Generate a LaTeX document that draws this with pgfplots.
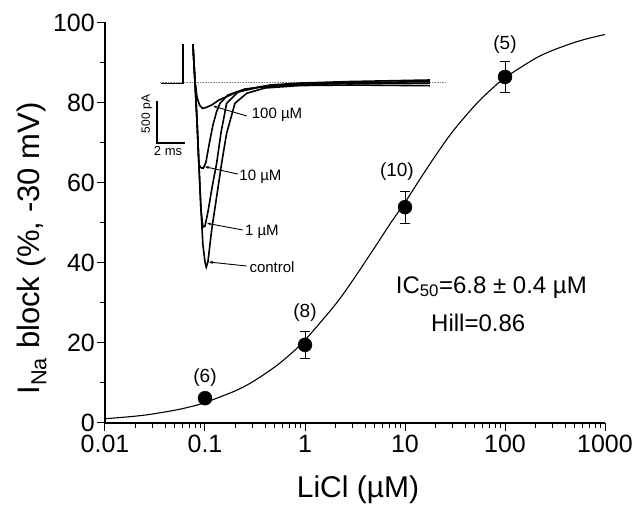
\documentclass[border=0pt]{standalone}
\usepackage{fontspec}
\setmainfont{Liberation Sans}
\usepackage{pgfplots}
\pgfplotsset{compat=1.18}
\usetikzlibrary{arrows.meta}

\begin{document}
\begin{tikzpicture}
\path[use as bounding box] (-105pt,-82pt) rectangle (532pt,423pt);

% main dose-response axis
\begin{axis}[
  at={(0pt,0pt)}, anchor=south west,
  scale only axis, width=500pt, height=400.5pt,
  xmode=log, xmin=0.01, xmax=1000, ymin=0, ymax=100,
  axis x line=bottom, axis y line=left,
  axis line style={line width=1.2pt, -},
  tick align=outside,
  major tick length=8pt, minor tick length=5pt,
  tick style={black, line width=1pt},
  xtick={0.01,0.1,1,10,100,1000},
  xticklabels={0.01,0.1,1,10,100,1000},
  minor xtick={0.02,0.03,0.04,0.05,0.06,0.07,0.08,0.09,
    0.2,0.3,0.4,0.5,0.6,0.7,0.8,0.9,2,3,4,5,6,7,8,9,
    20,30,40,50,60,70,80,90,200,300,400,500,600,700,800,900},
  ytick={0,20,40,60,80,100},
  yticklabels={0,20,40,60,80,100},
  minor ytick={10,30,50,70,90},
  tick label style={font=\fontsize{25}{28}\selectfont, inner sep=0pt},
  xticklabel style={yshift=-4pt},
  yticklabel style={xshift=-2pt},
  clip=false,
]
% Hill fit
\addplot[black, line width=1.1pt, smooth] coordinates {
  (0.01,1.05) (0.02,1.70) (0.03,2.25) (0.05,3.20) (0.07,4.00) (0.1,5.10)
  (0.2,8.00) (0.3,10.30) (0.5,14.00) (0.7,17.00) (1,20.70) (2,29.50)
  (3,35.60) (5,43.90) (7,49.50) (10,55.10) (15,61.90) (20,66.60)
  (30,72.80) (50,79.30) (70,82.90) (100,86.20) (200,91.00) (300,93.05)
  (500,95.05) (700,96.10) (1000,97.00)
};
% mean +- SEM
\addplot[only marks, mark=*, mark size=7pt, black,
  error bars/.cd, y dir=both, y explicit,
  error bar style={line width=1pt},
  error mark options={rotate=90, mark size=5pt, line width=1pt}]
  coordinates {
  (0.1,6.2) +- (0,1.0)
  (1,19.5) +- (0,3.4)
  (10,53.9) +- (0,4.0)
  (100,86.4) +- (0,3.8)
};
\node[font=\fontsize{19}{22}\selectfont] at (axis cs:0.1,11.4) {(6)};
\node[font=\fontsize{19}{22}\selectfont] at (axis cs:1,27.5) {(8)};
\node[font=\fontsize{19}{22}\selectfont] at (axis cs:8.3,62.7) {(10)};
\node[font=\fontsize{19}{22}\selectfont] at (axis cs:100,94.4) {(5)};
\node[anchor=base, font=\fontsize{24}{28}\selectfont] at (axis cs:73,32.4) {IC\textsubscript{50}=6.8 ± 0.4 µM};
\node[anchor=base, font=\fontsize{24}{28}\selectfont] at (axis cs:54,22.8) {Hill=0.86};
\end{axis}

% inset: current traces (ms, pA)
\begin{axis}[
  at={(35.2pt,143pt)}, anchor=south west,
  scale only axis, width=311.6pt, height=235pt,
  xmin=-1.5, xmax=21, ymin=-2316, ymax=443,
  hide axis, clip mode=individual,
]
\addplot[gray, densely dotted, line width=0.6pt] coordinates {(-0.07,0) (20.6,0)};
% holding step
\addplot[black, line width=1.7pt] coordinates {(0,-9) (1.59,-9) (1.59,800)};
% control
\addplot[black, line width=1.6pt] coordinates {
  (1.95,736) (2.31,443) (2.45,32) (2.60,-438) (2.74,-966) (2.89,-1495)
  (3.03,-1905) (3.18,-2105) (3.27,-2164) (3.39,-2105) (3.66,-1729)
  (4.02,-1338) (4.38,-946) (4.74,-594) (5.34,-242) (6.19,-124)
  (7.51,-62) (10.04,-33) (13.65,-27) (19.42,-35)
};
% 1 uM
\addplot[black, line width=1.6pt] coordinates {
  (1.95,736) (2.31,443) (2.45,32) (2.60,-438) (2.74,-966) (2.89,-1495)
  (3.03,-1694) (3.18,-1682) (3.39,-1518) (3.72,-1201) (4.02,-946)
  (4.33,-591) (4.74,-242) (5.56,-109) (7.15,-50) (10.04,-21)
  (13.65,-9) (19.42,-7)
};
% 10 uM
\addplot[black, line width=1.6pt] coordinates {
  (1.95,736) (2.31,443) (2.45,32) (2.60,-438) (2.74,-966) (2.92,-1001)
  (3.07,-1001) (3.25,-931) (3.47,-731) (3.75,-497) (4.01,-344)
  (4.26,-242) (4.84,-144) (6.06,-74) (8.59,-27) (13.65,2) (19.42,12)
};
% 100 uM
\addplot[black, line width=1.6pt] coordinates {
  (1.95,736) (2.31,443) (2.45,32) (2.60,-168) (2.78,-262) (3.00,-301)
  (3.25,-291) (3.66,-262) (4.19,-203) (4.74,-164) (5.42,-115)
  (6.19,-77) (7.87,-27) (10.04,-4) (13.65,14) (19.42,32)
};
% scale bar: 500 pA, 2 ms
\addplot[black, line width=1.6pt] coordinates {(-0.27,-211) (-0.27,-711) (1.73,-711)};
\node[rotate=90, font=\fontsize{12}{14}\selectfont] at (axis cs:-1.01,-367) {500 pA};
\node[font=\fontsize{13}{15}\selectfont] at (axis cs:0.51,-798) {2 ms};
% trace labels
\draw[-{Stealth[length=4pt]}, line width=0.9pt] (axis cs:6.19,-391) -- (axis cs:3.78,-274);
\draw[-{Stealth[length=4pt]}, line width=0.9pt] (axis cs:5.54,-1072) -- (axis cs:3.18,-986);
\draw[-{Stealth[length=4pt]}, line width=0.9pt] (axis cs:5.90,-1729) -- (axis cs:3.34,-1651);
\draw[-{Stealth[length=4pt]}, line width=0.9pt] (axis cs:6.19,-2152) -- (axis cs:3.47,-2105);
\node[anchor=west, inner sep=0pt, font=\fontsize{15}{17}\selectfont] at (axis cs:6.55,-379) {100 µM};
\node[anchor=west, inner sep=0pt, font=\fontsize{15}{17}\selectfont] at (axis cs:5.65,-1104) {10 µM};
\node[anchor=west, inner sep=0pt, font=\fontsize{15}{17}\selectfont] at (axis cs:6.06,-1756) {1 µM};
\node[anchor=west, inner sep=0pt, font=\fontsize{15}{17}\selectfont] at (axis cs:6.38,-2167) {control};
\end{axis}

\node[rotate=90, anchor=base, font=\fontsize{31}{34}\selectfont] at (-65pt,174.5pt) {I\textsubscript{Na} block (\%, -30 mV)};
\node[anchor=base, font=\fontsize{30}{34}\selectfont] at (253pt,-75pt) {LiCl (µM)};
\end{tikzpicture}
\end{document}
